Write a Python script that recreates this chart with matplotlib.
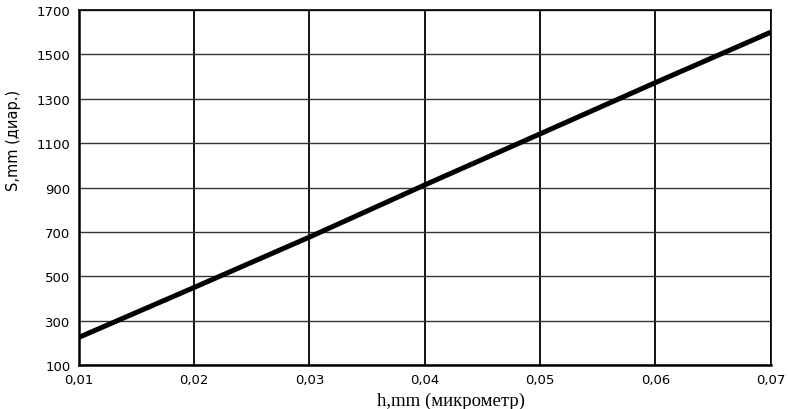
import numpy as np
import matplotlib
matplotlib.use('Agg')
import matplotlib.pyplot as plt

# data
h_values = [0.01, 0.02, 0.03, 0.04, 0.05, 0.06, 0.07]
s_values = [225, 450, 677, 912, 1142, 1373, 1600]
x_ticks = [0.01, 0.02, 0.03, 0.04, 0.05, 0.06, 0.07]
x_labels = ['0,01', '0,02', '0,03', '0,04', '0,05', '0,06', '0,07']
y_ticks = [100, 300, 500, 700, 900, 1100, 1300, 1500, 1700]

fig = plt.figure(figsize=(7.88, 4.10), dpi=100)
ax = fig.add_axes([0.100, 0.107, 0.878, 0.866])

ax.plot(h_values, s_values, color='black', linewidth=3.6, solid_capstyle='butt')

ax.set_xlim(0.01, 0.07)
ax.set_ylim(100, 1700)
ax.set_xticks(x_ticks)
ax.set_xticklabels(x_labels)
ax.set_yticks(y_ticks)

for x in x_ticks:
    ax.axvline(x, color='black', linewidth=1.3, zorder=1)
for y in y_ticks:
    ax.axhline(y, color='#333333', linewidth=1.0, zorder=1)

for side in ['left', 'bottom']:
    ax.spines[side].set_linewidth(1.8)
for side in ['top', 'right']:
    ax.spines[side].set_linewidth(1.2)

ax.tick_params(length=0, pad=6, labelsize=9.5, colors='black')
for lbl in ax.get_xticklabels() + ax.get_yticklabels():
    lbl.set_family('DejaVu Sans')

ax.set_xlabel('h,mm (микрометр)', family='Liberation Serif', fontsize=13.5)
ax.xaxis.set_label_coords(0.538, -0.074)
ax.set_ylabel('S,mm (диар.)', family='DejaVu Sans', fontsize=10.5)
ax.yaxis.set_label_coords(-0.083, 0.637)

fig.savefig('out.png', dpi=100)
